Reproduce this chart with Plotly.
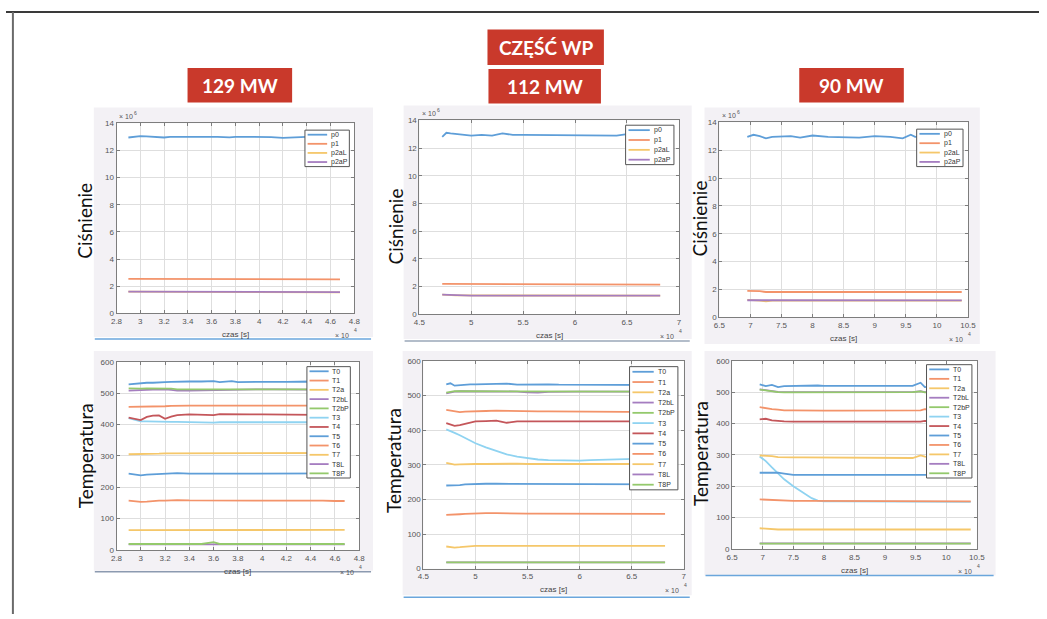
import plotly.graph_objects as go

W, H = 1047, 619

# ---------------- texts ----------------
section_title = "CZĘŚĆ WP"
power_titles = ["129 MW", "112 MW", "90 MW"]
pressure_label = "Ciśnienie"
temperature_label = "Temperatura"
time_label = "czas [s]"

pressure_names = ["p0", "p1", "p2aL", "p2aP"]
temperature_names = ["T0", "T1", "T2a", "T2bL", "T2bP", "T3", "T4", "T5", "T6", "T7", "T8L", "T8P"]

# ---------------- ticks ----------------
x_ticks_129 = [2.8, 3.0, 3.2, 3.4, 3.6, 3.8, 4.0, 4.2, 4.4, 4.6, 4.8]
x_labels_129 = ["2.8", "3", "3.2", "3.4", "3.6", "3.8", "4", "4.2", "4.4", "4.6", "4.8"]
x_ticks_112 = [4.5, 5.0, 5.5, 6.0, 6.5, 7.0]
x_labels_112 = ["4.5", "5", "5.5", "6", "6.5", "7"]
x_ticks_90 = [6.5, 7.0, 7.5, 8.0, 8.5, 9.0, 9.5, 10.0, 10.5]
x_labels_90 = ["6.5", "7", "7.5", "8", "8.5", "9", "9.5", "10", "10.5"]
p_ticks = [0, 2, 4, 6, 8, 10, 12, 14]
t_ticks = [0, 100, 200, 300, 400, 500, 600]
x_exponent = "4"
p_exponent = "6"

# ---------------- 129 MW (time in 10^4 s) ----------------
time_129 = [2.90, 2.95, 3.00, 3.05, 3.10, 3.15, 3.20, 3.25, 3.30, 3.40, 3.50, 3.60,
            3.65, 3.75, 3.80, 3.90, 4.00, 4.10, 4.20, 4.30, 4.40, 4.50, 4.60, 4.68]
# pressure (10^6 Pa)
p0_129 = [12.95, 13.00, 13.05, 13.03, 13.02, 13.00, 12.95, 13.00, 13.00, 13.00, 13.00, 13.02,
          13.00, 12.96, 13.00, 13.00, 13.00, 12.98, 12.93, 12.98, 13.00, 13.00, 13.00, 13.00]
p1_129 = [2.55, 2.55, 2.55, 2.50, 2.50, 2.50, 2.50, 2.50, 2.50, 2.50, 2.50, 2.50,
          2.50, 2.50, 2.50, 2.50, 2.50, 2.50, 2.50, 2.50, 2.50, 2.50, 2.50, 2.50]
p2aL_129 = [1.60, 1.60, 1.60, 1.60, 1.60, 1.60, 1.58, 1.57, 1.57, 1.57, 1.57, 1.60,
            1.60, 1.60, 1.60, 1.60, 1.60, 1.60, 1.57, 1.57, 1.60, 1.60, 1.60, 1.55]
p2aP_129 = [1.61, 1.61, 1.61, 1.61, 1.61, 1.61, 1.61, 1.61, 1.61, 1.61, 1.61, 1.61,
            1.61, 1.61, 1.61, 1.61, 1.61, 1.61, 1.61, 1.61, 1.61, 1.61, 1.60, 1.57]
# temperature
T0_129 = [528, 530, 532, 533, 533, 535, 535, 536, 537, 537, 537, 538, 535, 538, 535, 536, 536, 536, 536, 537, 537, 536, 535, 535]
T1_129 = [456, 456, 457, 458, 458, 458, 458, 459, 460, 460, 460, 461, 460, 460, 460, 460, 460, 460, 460, 461, 461, 460, 460, 460]
T2a_129 = [63, 63, 62, 62, 62, 62, 62, 62, 63, 63, 63, 63, 63, 63, 64, 64, 64, 64, 64, 64, 64, 64, 64, 64]
T2bL_129 = [508, 508, 509, 510, 511, 512, 512, 510, 508, 508, 509, 510, 510, 511, 511, 511, 512, 512, 512, 512, 511, 510, 510, 510]
T2bP_129 = [515, 514, 514, 515, 515, 515, 515, 514, 512, 512, 512, 512, 512, 512, 512, 512, 513, 513, 513, 513, 512, 512, 512, 512]
T3_129 = [420, 415, 410, 410, 409, 409, 408, 408, 408, 407, 406, 406, 407, 407, 407, 407, 407, 407, 407, 407, 407, 407, 407, 407]
T4_129 = [422, 417, 414, 424, 428, 429, 418, 425, 430, 432, 432, 430, 433, 432, 432, 432, 432, 432, 432, 431, 430, 430, 430, 430]
T5_129 = [243, 240, 238, 240, 241, 242, 242, 244, 245, 243, 243, 243, 243, 244, 244, 244, 244, 244, 244, 244, 244, 244, 244, 244]
T6_129 = [157, 155, 153, 154, 156, 157, 157, 158, 159, 158, 158, 158, 158, 159, 159, 159, 159, 158, 158, 158, 157, 157, 156, 156]
T7_129 = [305, 305, 306, 306, 307, 307, 308, 308, 309, 309, 310, 310, 310, 310, 310, 310, 310, 310, 310, 310, 309, 309, 309, 309]
T8L_129 = [18, 18, 18, 18, 18, 18, 18, 18, 18, 18, 18, 19, 18, 18, 18, 18, 18, 18, 18, 18, 18, 18, 18, 18]
T8P_129 = [19, 19, 19, 19, 19, 19, 19, 19, 19, 19, 19, 25, 19, 19, 19, 19, 19, 19, 19, 19, 19, 19, 19, 19]

# ---------------- 112 MW ----------------
time_112 = [4.72, 4.76, 4.80, 4.85, 4.90, 4.95, 5.00, 5.10, 5.20, 5.30, 5.40, 5.50, 5.60,
            5.70, 5.80, 5.90, 6.00, 6.10, 6.20, 6.30, 6.40, 6.50, 6.60, 6.70, 6.82]
p0_112 = [12.80, 13.10, 13.05, 13.00, 13.00, 12.95, 12.90, 12.95, 12.90, 13.05, 12.95, 12.95, 12.95,
          12.95, 12.95, 12.95, 12.90, 12.90, 12.95, 12.95, 12.90, 13.00, 13.00, 13.00, 13.00]
p1_112 = [2.20, 2.20, 2.17, 2.15, 2.15, 2.15, 2.15, 2.15, 2.15, 2.15, 2.15, 2.15, 2.15,
          2.15, 2.15, 2.15, 2.15, 2.15, 2.15, 2.15, 2.15, 2.15, 2.15, 2.15, 2.15]
p2aL_112 = [1.42, 1.40, 1.36, 1.37, 1.37, 1.37, 1.37, 1.37, 1.37, 1.37, 1.37, 1.37, 1.37,
            1.37, 1.37, 1.37, 1.37, 1.37, 1.37, 1.37, 1.37, 1.37, 1.37, 1.35, 1.35]
p2aP_112 = [1.42, 1.41, 1.35, 1.35, 1.35, 1.35, 1.35, 1.35, 1.35, 1.35, 1.35, 1.35, 1.35,
            1.35, 1.35, 1.35, 1.35, 1.35, 1.35, 1.35, 1.35, 1.35, 1.35, 1.35, 1.35]
T0_112 = [532, 535, 528, 530, 531, 532, 532, 533, 533, 534, 531, 532, 532, 532, 531, 531, 531, 532, 531, 531, 530, 530, 530, 530, 530]
T1_112 = [458, 456, 454, 452, 453, 454, 455, 455, 456, 455, 455, 455, 454, 454, 454, 454, 453, 453, 453, 453, 452, 452, 452, 452, 452]
T2a_112 = [64, 63, 61, 62, 64, 65, 66, 66, 66, 66, 66, 66, 66, 66, 66, 66, 66, 66, 66, 66, 66, 66, 66, 66, 66]
T2bL_112 = [506, 509, 511, 512, 512, 512, 512, 512, 512, 512, 511, 509, 508, 510, 511, 511, 511, 511, 511, 511, 511, 511, 511, 511, 511]
T2bP_112 = [508, 510, 512, 512, 512, 512, 512, 512, 512, 512, 511, 511, 511, 511, 511, 511, 511, 511, 511, 511, 511, 511, 511, 511, 511]
T3_112 = [402, 398, 392, 385, 377, 370, 362, 350, 340, 330, 323, 318, 315, 313, 312, 312, 312, 313, 314, 315, 316, 317, 318, 318, 318]
T4_112 = [420, 415, 412, 414, 418, 422, 425, 426, 427, 421, 425, 425, 425, 426, 426, 425, 425, 425, 425, 425, 425, 425, 425, 425, 425]
T5_112 = [240, 240, 240, 241, 243, 244, 245, 245, 245, 245, 245, 245, 245, 245, 245, 244, 244, 244, 244, 244, 244, 243, 243, 243, 243]
T6_112 = [155, 155, 156, 157, 158, 159, 160, 160, 160, 159, 159, 159, 159, 159, 159, 159, 159, 159, 159, 159, 159, 159, 159, 160, 158]
T7_112 = [305, 303, 300, 301, 302, 302, 302, 302, 303, 303, 303, 302, 302, 302, 302, 302, 302, 302, 302, 302, 302, 302, 302, 302, 302]
T8L_112 = [18, 18, 18, 18, 18, 18, 18, 18, 18, 18, 18, 18, 18, 18, 18, 18, 18, 18, 18, 18, 18, 18, 18, 18, 18]
T8P_112 = [18, 18, 18, 18, 18, 18, 18, 18, 18, 18, 18, 18, 18, 18, 18, 18, 18, 18, 18, 18, 18, 18, 18, 18, 18]

# ---------------- 90 MW ----------------
time_90 = [6.95, 7.05, 7.15, 7.25, 7.35, 7.50, 7.65, 7.80, 7.90, 8.00, 8.25,
           8.50, 8.75, 9.00, 9.25, 9.45, 9.58, 9.65, 9.80, 10.00, 10.20, 10.40]
p0_90 = [12.95, 13.10, 13.00, 12.85, 12.95, 12.95, 13.00, 12.90, 13.00, 13.05, 12.95,
         12.95, 12.90, 13.00, 12.95, 12.85, 13.10, 12.95, 13.00, 13.00, 13.00, 13.00]
p1_90 = [1.90, 1.90, 1.88, 1.82, 1.82, 1.82, 1.82, 1.82, 1.82, 1.82, 1.82,
         1.82, 1.82, 1.82, 1.82, 1.82, 1.80, 1.82, 1.82, 1.82, 1.82, 1.82]
p2aL_90 = [1.25, 1.25, 1.20, 1.15, 1.20, 1.20, 1.20, 1.20, 1.20, 1.20, 1.20,
           1.20, 1.20, 1.20, 1.20, 1.20, 1.20, 1.20, 1.20, 1.20, 1.20, 1.20]
p2aP_90 = [1.23, 1.23, 1.22, 1.22, 1.22, 1.22, 1.22, 1.22, 1.22, 1.22, 1.22,
           1.22, 1.22, 1.22, 1.22, 1.22, 1.22, 1.22, 1.22, 1.22, 1.22, 1.22]
T0_90 = [525, 519, 523, 516, 519, 520, 520, 520, 521, 520, 520, 520, 520, 521, 520, 520, 530, 516, 518, 520, 520, 520]
T1_90 = [452, 448, 446, 444, 442, 442, 441, 441, 441, 441, 441, 441, 441, 441, 440, 440, 442, 446, 444, 444, 444, 444]
T2a_90 = [66, 64, 63, 62, 62, 62, 62, 62, 62, 62, 62, 62, 62, 62, 62, 62, 62, 62, 62, 62, 62, 62]
T2bL_90 = [509, 506, 503, 501, 500, 500, 500, 500, 500, 500, 500, 500, 500, 500, 500, 500, 503, 500, 500, 500, 500, 500]
T2bP_90 = [508, 505, 503, 500, 499, 499, 499, 500, 500, 500, 500, 500, 500, 500, 500, 500, 502, 499, 499, 499, 499, 499]
T3_90 = [295, 280, 260, 240, 222, 200, 180, 162, 154, 152, 152, 152, 151, 151, 151, 151, 151, 151, 151, 151, 150, 150]
T4_90 = [413, 415, 410, 408, 407, 406, 406, 406, 406, 405, 405, 405, 405, 405, 405, 404, 406, 408, 407, 407, 407, 407]
T5_90 = [243, 243, 243, 243, 240, 236, 236, 236, 236, 236, 236, 236, 236, 236, 236, 236, 236, 236, 236, 236, 236, 236]
T6_90 = [158, 157, 155, 154, 153, 153, 153, 153, 152, 153, 153, 153, 153, 153, 153, 152, 153, 153, 152, 152, 152, 152]
T7_90 = [298, 298, 296, 293, 292, 292, 292, 292, 292, 292, 292, 292, 292, 292, 292, 290, 298, 294, 293, 293, 293, 293]
T8L_90 = [18, 18, 18, 18, 18, 18, 18, 18, 18, 18, 18, 18, 18, 18, 18, 18, 18, 18, 18, 18, 18, 18]
T8P_90 = [17, 17, 17, 17, 17, 17, 17, 17, 17, 17, 17, 17, 17, 17, 17, 17, 17, 17, 17, 17, 17, 17]

# ---------------- style ----------------
matlab_colors = ["#5e9ed8", "#f3936a", "#f5c76a", "#a57dc0", "#94c96c", "#8fd3f1", "#c4565a"]
red_box = "#c9392b"
panel_bg = "#f3f1f5"
axis_line = "#7d7d7d"
grid_col = "#dedede"
tick_col = "#555555"
slide_font = "Lato"
plot_font = "Liberation Sans"

# panel geometry in pixels: axes box, background box, legend box, bottom line
panels = [
    dict(time=time_129, ser=[p0_129, p1_129, p2aL_129, p2aP_129], names=pressure_names,
         ax=(112, 121, 353, 314), bg=(89, 105, 372, 338), leg=(303, 128, 348, 165), line_y=340,
         xr=[2.8, 4.8], xt=x_ticks_129, xl=x_labels_129, yr=[0, 14], yt=p_ticks, exp=p_exponent,
         ylab=pressure_label, ylab_xy=(80, 220), line_col="#6aa6dc"),
    dict(time=time_112, ser=[p0_112, p1_112, p2aL_112, p2aP_112], names=pressure_names,
         ax=(419, 118, 682, 315), bg=(403, 103, 695, 340), leg=(628, 123, 677, 163), line_y=342,
         xr=[4.5, 7.0], xt=x_ticks_112, xl=x_labels_112, yr=[0, 14], yt=p_ticks, exp=p_exponent,
         ylab=pressure_label, ylab_xy=(395, 226), line_col="#9aa7b8"),
    dict(time=time_90, ser=[p0_90, p1_90, p2aL_90, p2aP_90], names=pressure_names,
         ax=(723, 120, 975, 318), bg=(708, 105, 987, 345), leg=(923, 127, 970, 165), line_y=None,
         xr=[6.5, 10.5], xt=x_ticks_90, xl=x_labels_90, yr=[0, 14], yt=p_ticks, exp=p_exponent,
         ylab=pressure_label, ylab_xy=(703, 218), line_col="#6aa6dc"),
    dict(time=time_129, ser=[T0_129, T1_129, T2a_129, T2bL_129, T2bP_129, T3_129, T4_129, T5_129,
                             T6_129, T7_129, T8L_129, T8P_129], names=temperature_names,
         ax=(112, 363, 358, 554), bg=(89, 352, 372, 575), leg=(305, 368, 349, 481), line_y=576,
         xr=[2.8, 4.8], xt=x_ticks_129, xl=x_labels_129, yr=[0, 600], yt=t_ticks, exp=None,
         ylab=temperature_label, ylab_xy=(80, 458), line_col="#8c9ab0"),
    dict(time=time_112, ser=[T0_112, T1_112, T2a_112, T2bL_112, T2bP_112, T3_112, T4_112, T5_112,
                             T6_112, T7_112, T8L_112, T8P_112], names=temperature_names,
         ax=(423, 362, 687, 573), bg=(402, 352, 695, 600), leg=(632, 368, 681, 493), line_y=602,
         xr=[4.5, 7.0], xt=x_ticks_112, xl=x_labels_112, yr=[0, 600], yt=t_ticks, exp=None,
         ylab=temperature_label, ylab_xy=(393, 463), line_col="#6aa6dc"),
    dict(time=time_90, ser=[T0_90, T1_90, T2a_90, T2bL_90, T2bP_90, T3_90, T4_90, T5_90,
                            T6_90, T7_90, T8L_90, T8P_90], names=temperature_names,
         ax=(736, 362, 984, 553), bg=(708, 352, 1003, 580), leg=(933, 366, 979, 481), line_y=580,
         xr=[6.5, 10.5], xt=x_ticks_90, xl=x_labels_90, yr=[0, 600], yt=t_ticks, exp=None,
         ylab=temperature_label, ylab_xy=(704, 456), line_col="#6aa6dc"),
]


def px(x):
    return x / W


def py(y):
    return 1 - y / H


def text_ann(text, x, y, xanchor, yanchor, size, color, family=plot_font, angle=0):
    return dict(text=text, xref="paper", yref="paper", x=px(x), y=py(y), xanchor=xanchor,
                yanchor=yanchor, showarrow=False, textangle=angle,
                font=dict(family=family, size=size, color=color))


fig = go.Figure()
shapes = []
annotations = []
layout_axes = {}

# slide border
shapes.append(dict(type="line", xref="paper", yref="paper", x0=0, x1=1, y0=py(8), y1=py(8),
                   line=dict(color="#3a3a3a", width=2), layer="below"))
shapes.append(dict(type="line", xref="paper", yref="paper", x0=px(7), x1=px(7), y0=0, y1=py(8),
                   line=dict(color="#6a6a6a", width=2), layer="below"))

for i, p in enumerate(panels):
    k = i + 1
    xa = "x" if k == 1 else f"x{k}"
    ya = "y" if k == 1 else f"y{k}"
    ax0, ay0, ax1, ay1 = p["ax"]
    bx0, by0, bx1, by1 = p["bg"]
    # figure background
    shapes.append(dict(type="rect", xref="paper", yref="paper", x0=px(bx0), x1=px(bx1),
                       y0=py(by1), y1=py(by0), fillcolor=panel_bg, line=dict(width=0), layer="below"))
    shapes.append(dict(type="rect", xref="paper", yref="paper", x0=px(ax0), x1=px(ax1),
                       y0=py(ay1), y1=py(ay0), fillcolor="white", line=dict(width=0), layer="below"))
    if p["line_y"] is not None:
        shapes.append(dict(type="line", xref="paper", yref="paper", x0=px(bx0 + 1), x1=px(bx1 - 2),
                           y0=py(p["line_y"]), y1=py(p["line_y"]),
                           line=dict(color=p["line_col"], width=1.5), layer="below"))
    # traces
    for j, (name, vals) in enumerate(zip(p["names"], p["ser"])):
        fig.add_trace(go.Scatter(x=p["time"], y=vals, mode="lines", name=name, showlegend=False,
                                 xaxis=xa, yaxis=ya, hoverinfo="skip",
                                 line=dict(color=matlab_colors[j % 7], width=1.8)))
    axis_common = dict(showline=True, mirror="ticks", linecolor=axis_line, linewidth=1,
                       ticks="inside", ticklen=3, tickcolor=axis_line, showgrid=True,
                       gridcolor=grid_col, gridwidth=1, zeroline=False,
                       tickfont=dict(family=plot_font, size=8, color=tick_col))
    layout_axes["xaxis" if k == 1 else f"xaxis{k}"] = dict(
        axis_common, domain=[px(ax0), px(ax1)], range=p["xr"], tickmode="array",
        tickvals=p["xt"], ticktext=p["xl"], anchor=ya)
    layout_axes["yaxis" if k == 1 else f"yaxis{k}"] = dict(
        axis_common, domain=[py(ay1), py(ay0)], range=p["yr"], tickmode="array",
        tickvals=p["yt"], anchor=xa)
    # x-label and exponents (base and exponent as separate texts)
    annotations.append(text_ann(time_label, (ax0 + ax1) / 2, ay1 + 15, "center", "top", 8, "#444"))
    annotations.append(text_ann("× 10", ax1 - 3, ay1 + 17, "right", "top", 7, "#555"))
    annotations.append(text_ann(x_exponent, ax1 - 2, ay1 + 22, "left", "bottom", 5, "#555"))
    if p["exp"]:
        annotations.append(text_ann("× 10", ax0 + 1, ay0 - 1, "left", "bottom", 7, "#555"))
        annotations.append(text_ann(p["exp"], ax0 + 16, ay0 - 5, "left", "bottom", 5, "#555"))
    # y label
    lx, ly = p["ylab_xy"]
    annotations.append(text_ann(p["ylab"], lx, ly, "center", "middle", 19, "#111",
                                family=slide_font, angle=-90))
    # legend
    lx0, ly0, lx1, ly1 = p["leg"]
    shapes.append(dict(type="rect", xref="paper", yref="paper", x0=px(lx0), x1=px(lx1),
                       y0=py(ly1), y1=py(ly0), fillcolor="white",
                       line=dict(color="#555", width=1), layer="above"))
    n = len(p["names"])
    step = (ly1 - ly0) / n
    lw = lx1 - lx0
    for j, name in enumerate(p["names"]):
        yc = ly0 + (j + 0.5) * step
        shapes.append(dict(type="line", xref="paper", yref="paper", x0=px(lx0 + 0.06 * lw),
                           x1=px(lx0 + 0.5 * lw), y0=py(yc), y1=py(yc),
                           line=dict(color=matlab_colors[j % 7], width=1.8), layer="above"))
        annotations.append(text_ann(name, lx0 + 0.54 * lw, yc, "left", "middle", 7, "#333"))

# red title boxes
title_boxes = [
    (section_title, (488, 26, 606, 62)),
    (power_titles[0], (184, 65, 290, 100)),
    (power_titles[1], (489, 66, 603, 101)),
    (power_titles[2], (804, 65, 910, 100)),
]
for text, (x0, y0, x1, y1) in title_boxes:
    shapes.append(dict(type="rect", xref="paper", yref="paper", x0=px(x0), x1=px(x1),
                       y0=py(y1), y1=py(y0), fillcolor=red_box, line=dict(width=0), layer="above"))
    annotations.append(text_ann("<b>" + text + "</b>", (x0 + x1) / 2, (y0 + y1) / 2,
                                "center", "middle", 19, "white", family=slide_font))

fig.update_layout(width=W, height=H, margin=dict(l=0, r=0, t=0, b=0), autosize=False,
                  paper_bgcolor="white", plot_bgcolor="white", showlegend=False,
                  shapes=shapes, annotations=annotations, **layout_axes)

fig.write_html("out.html", config={"displayModeBar": False})
